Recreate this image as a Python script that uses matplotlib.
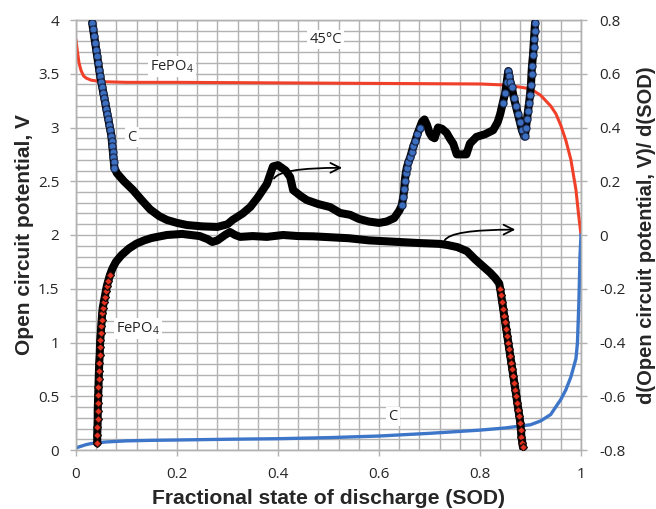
import numpy as np
import matplotlib
matplotlib.use("Agg")
import matplotlib.pyplot as plt

# ---------------- data ----------------
# Open circuit potential (left axis)
fe_ocv_x = [0, 0.003, 0.006, 0.01, 0.015, 0.02, 0.03, 0.045, 0.06, 0.1, 0.2, 0.4, 0.6, 0.8,
            0.85, 0.88, 0.90, 0.92, 0.94, 0.95, 0.96, 0.97, 0.98, 0.99, 0.995, 1.0]
fe_ocv_y = [3.81, 3.70, 3.60, 3.53, 3.48, 3.46, 3.44, 3.43, 3.425, 3.42, 3.42, 3.415, 3.41, 3.405,
            3.395, 3.375, 3.36, 3.30, 3.20, 3.13, 3.02, 2.88, 2.70, 2.42, 2.20, 2.0]

c_ocv_x = [0, 0.01, 0.02, 0.03, 0.04, 0.06, 0.08, 0.1, 0.15, 0.2, 0.3, 0.4, 0.5, 0.6, 0.7, 0.8,
           0.85, 0.9, 0.92, 0.94, 0.96, 0.97, 0.98, 0.99, 0.993, 0.996, 0.998, 1.0]
c_ocv_y = [0.02, 0.035, 0.05, 0.06, 0.066, 0.075, 0.08, 0.085, 0.09, 0.093, 0.10, 0.105, 0.115,
           0.13, 0.155, 0.185, 0.205, 0.235, 0.27, 0.33, 0.47, 0.56, 0.68, 0.85, 1.0, 1.4, 1.8, 2.0]

# d(OCV)/d(SOD) for FePO4 (right axis)
fe_d_x = [0.042, 0.042, 0.0425, 0.043, 0.043, 0.0435, 0.044, 0.0445, 0.045, 0.0455, 0.046, 0.047,
          0.0475, 0.048, 0.049, 0.050, 0.051, 0.052, 0.053, 0.055, 0.057, 0.059, 0.061, 0.064, 0.067,
          0.072, 0.079, 0.09, 0.105, 0.12, 0.135, 0.15, 0.18, 0.21, 0.245, 0.26, 0.27, 0.28, 0.295,
          0.305, 0.315, 0.325, 0.35, 0.378, 0.41, 0.44, 0.47, 0.50, 0.54, 0.58, 0.63, 0.68, 0.72,
          0.735, 0.755, 0.774, 0.79, 0.805, 0.82, 0.83, 0.838,
          0.840, 0.842, 0.844, 0.846, 0.848, 0.850, 0.852, 0.854, 0.856, 0.858, 0.860, 0.862, 0.864,
          0.866, 0.868, 0.870, 0.872, 0.874, 0.876, 0.878, 0.880, 0.881, 0.882, 0.884, 0.885]
fe_d_y = [-0.775, -0.745, -0.715, -0.685, -0.655, -0.625, -0.595, -0.565, -0.535, -0.505, -0.475,
          -0.445, -0.415, -0.39, -0.365, -0.34, -0.315, -0.29, -0.27, -0.25, -0.23, -0.21, -0.19,
          -0.17, -0.15,
          -0.125, -0.10, -0.075, -0.05, -0.032, -0.02, -0.011, 0.0, 0.004, -0.004, -0.015, -0.026,
          -0.02, 0.0, 0.011, 0.0, -0.007, -0.004, -0.007, 0.0, -0.004, -0.005, -0.008, -0.012,
          -0.02, -0.025, -0.03, -0.033, -0.037, -0.045, -0.06, -0.09, -0.115, -0.14, -0.16, -0.18,
          -0.20, -0.225, -0.25, -0.275, -0.30, -0.325, -0.35, -0.375, -0.40, -0.425, -0.45, -0.475,
          -0.50, -0.525, -0.55, -0.575, -0.60, -0.625, -0.65, -0.675, -0.70, -0.725, -0.75, -0.775,
          -0.79]

# d(OCV)/d(SOD) for C (right axis)
c_d_x = [0.032, 0.034, 0.036, 0.038, 0.040, 0.042, 0.044, 0.046, 0.048, 0.050, 0.052, 0.054, 0.056,
         0.058, 0.060, 0.062, 0.064, 0.066, 0.068, 0.070, 0.071, 0.072, 0.073, 0.074, 0.075, 0.076,
         0.081, 0.095, 0.113, 0.13, 0.147, 0.165, 0.18, 0.20, 0.22, 0.25, 0.28, 0.30, 0.31, 0.33,
         0.345, 0.36, 0.378, 0.39, 0.40, 0.415, 0.424, 0.43, 0.445, 0.457, 0.48, 0.503, 0.523,
         0.543, 0.56, 0.58, 0.60, 0.615, 0.63, 0.64,
         0.645, 0.648, 0.650, 0.651, 0.653, 0.655, 0.658, 0.662, 0.665, 0.668, 0.672, 0.676, 0.681,
         0.685, 0.69, 0.695, 0.70, 0.705, 0.71, 0.717, 0.725, 0.734, 0.74, 0.747, 0.754, 0.765,
         0.773, 0.78, 0.793, 0.81, 0.826, 0.835, 0.84,
         0.845, 0.85, 0.853, 0.856, 0.858, 0.860, 0.863, 0.867, 0.871, 0.875, 0.879, 0.883, 0.887,
         0.889, 0.891, 0.893, 0.895, 0.897, 0.899, 0.901, 0.902, 0.903, 0.905, 0.906, 0.907, 0.908,
         0.909]
c_d_y = [0.79, 0.765, 0.74, 0.715, 0.69, 0.665, 0.64, 0.615, 0.59, 0.57, 0.55, 0.53, 0.51, 0.49,
         0.47, 0.45, 0.43, 0.41, 0.39, 0.37, 0.35, 0.33, 0.31, 0.29, 0.27, 0.25,
         0.23, 0.20, 0.167, 0.13, 0.095, 0.07, 0.056, 0.045, 0.037, 0.032, 0.03, 0.04, 0.056, 0.08,
         0.104, 0.14, 0.19, 0.255, 0.26, 0.24, 0.216, 0.167, 0.145, 0.13, 0.115, 0.104, 0.082,
         0.075, 0.06, 0.05, 0.045, 0.05, 0.063, 0.09,
         0.11, 0.14, 0.17, 0.20, 0.23, 0.25, 0.27, 0.29, 0.31, 0.33, 0.35, 0.375, 0.40,
         0.42, 0.43, 0.41, 0.38, 0.365, 0.36, 0.40, 0.395, 0.38, 0.36, 0.34, 0.30, 0.30,
         0.30, 0.34, 0.365, 0.375, 0.39, 0.42, 0.45,
         0.49, 0.53, 0.57, 0.61, 0.59, 0.57, 0.55, 0.51, 0.48, 0.45, 0.42, 0.39, 0.37,
         0.37, 0.40, 0.43, 0.46, 0.49, 0.52, 0.56, 0.60, 0.63, 0.67, 0.70, 0.73, 0.76, 0.79]

x_ticks = [0, 0.2, 0.4, 0.6, 0.8, 1]
x_ticklabels = ["0", "0.2", "0.4", "0.6", "0.8", "1"]
yl_ticks = [0, 0.5, 1, 1.5, 2, 2.5, 3, 3.5, 4]
yl_ticklabels = ["0", "0.5", "1", "1.5", "2", "2.5", "3", "3.5", "4"]
yr_ticks = [-0.8, -0.6, -0.4, -0.2, 0, 0.2, 0.4, 0.6, 0.8]
yr_ticklabels = ["-0.8", "-0.6", "-0.4", "-0.2", "0", "0.2", "0.4", "0.6", "0.8"]

# ---------------- style ----------------
plt.rcParams['font.family'] = ['Open Sans', 'DejaVu Sans']
plt.rcParams['mathtext.fontset'] = 'custom'
plt.rcParams['mathtext.rm'] = 'Open Sans'
GRID = '#b2b2b2'
TXT = '#262626'

fig = plt.figure(figsize=(6.56, 5.09), dpi=100)
ax = fig.add_axes([76/656, 1-450/509, (581-76)/656, (450-20)/509])
ax2 = ax.twinx()

ax.set_xlim(0, 1)
ax.set_ylim(0, 4)
ax2.set_ylim(-0.8, 0.8)

# grid
ax.set_axisbelow(True)
ax.set_xticks(np.arange(0, 1.0001, 0.04), minor=True)
ax.set_yticks(np.arange(0, 4.0001, 0.1), minor=True)
ax.grid(True, which='both', color=GRID, lw=1.0)

ax.set_xticks(x_ticks)
ax.set_xticklabels(x_ticklabels)
ax.set_yticks(yl_ticks)
ax.set_yticklabels(yl_ticklabels)
ax2.set_yticks(yr_ticks)
ax2.set_yticklabels(yr_ticklabels)

for a in (ax, ax2):
    for s in a.spines.values():
        s.set_color(GRID)
        s.set_linewidth(1.0)
    a.tick_params(which='major', length=4, width=1, color=GRID, labelsize=11,
                  labelcolor=TXT)
    a.tick_params(which='minor', length=0)
ax.tick_params(axis='y', pad=8)
ax.tick_params(axis='x', pad=8)
ax2.tick_params(axis='y', pad=9)

# OCV curves
ax.plot(fe_ocv_x, fe_ocv_y, color='#f0402a', lw=2.2, zorder=3)
ax.plot(c_ocv_x, c_ocv_y, color='#3d76c9', lw=2.4, zorder=3)

# derivative curves
fx = np.array(fe_d_x); fy = np.array(fe_d_y)
cx = np.array(c_d_x); cy = np.array(c_d_y)
ax2.plot(cx, cy, color='black', lw=5.8, solid_capstyle='round', solid_joinstyle='round', zorder=3)
c_mark = (cx <= 0.077) | ((cx >= 0.645) & (cx <= 0.681)) | (cx >= 0.845)
ax2.plot(cx[c_mark], cy[c_mark], ls='none', marker='o', ms=5.2, mfc='#3d6fc0', mec='#18264a',
         mew=0.8, zorder=4)

ax2.plot(fx, fy, color='black', lw=5.8, solid_capstyle='round', solid_joinstyle='round', zorder=5)
f_mark = (fx < 0.07) | (fx >= 0.84)
ax2.plot(fx[f_mark], fy[f_mark], ls='none', marker='D', ms=4.4, mfc='#e3321f', mec='#1a0a08',
         mew=0.9, zorder=6)

# labels
lab_font = dict(family='Liberation Sans', weight='bold', color=TXT)
ax.set_xlabel("Fractional state of discharge (SOD)", fontsize=15.2, labelpad=5, **lab_font)
ax.set_ylabel("Open circuit potential, V", fontsize=15, labelpad=3, **lab_font)
ax2.set_ylabel("d(Open circuit potential, V)/ d(SOD)", fontsize=14.5, labelpad=8, **lab_font)

# annotations
bb = dict(boxstyle='square,pad=0.15', fc='white', ec='none')
ax.text(0.494, 3.82, "45\u00b0C", fontsize=10.5, ha='center', va='center', color=TXT, bbox=bb, zorder=7)
ax.text(0.19, 3.57, "FePO$_\\mathregular{4}$", fontsize=10.5, ha='center', va='center', color=TXT,
        bbox=bb, zorder=7)
ax.text(0.111, 2.91, "C", fontsize=10.5, ha='center', va='center', color=TXT, bbox=bb, zorder=7)
ax.text(0.122, 1.13, "FePO$_\\mathregular{4}$", fontsize=10.5, ha='center', va='center', color=TXT,
        bbox=bb, zorder=7)
ax.text(0.628, 0.31, "C", fontsize=10.5, ha='center', va='center', color=TXT, bbox=bb, zorder=7)

arr = dict(arrowstyle='->,head_length=0.7,head_width=0.35', lw=1.3, color='black',
           connectionstyle='angle3,angleA=60,angleB=0', shrinkA=0, shrinkB=0)
ax2.annotate('', xy=(0.527, 0.25), xytext=(0.392, 0.21), xycoords='data', arrowprops=arr, zorder=8)
ax2.annotate('', xy=(0.87, 0.02), xytext=(0.73, -0.02), xycoords='data', arrowprops=arr, zorder=8)

fig.savefig("out.png", dpi=100)
